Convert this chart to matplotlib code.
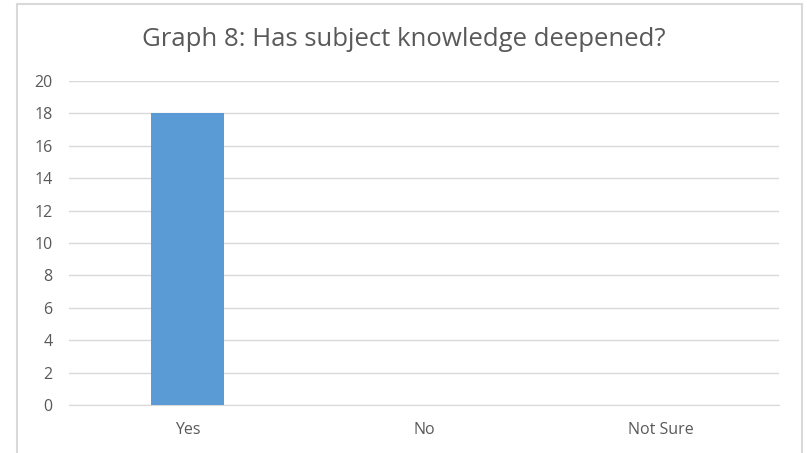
import matplotlib.pyplot as plt
from matplotlib.patches import Rectangle

categories = ["Yes", "No", "Not Sure"]
counts = [18, 0, 0]
y_ticks = list(range(0, 21, 2))

TEXT = "#595959"
GRID = "#d9d9d9"
BAR = "#5b9bd5"

plt.rcParams["font.family"] = ["Open Sans", "DejaVu Sans"]

fig = plt.figure(figsize=(8.07, 4.53), dpi=100)
W, H = 807, 453

# chart frame, bottom edge runs past the figure
fig.patches.append(
    Rectangle((16.5 / W, -0.05), (801.5 - 16.5) / W, 1.05 - 4.5 / H,
              transform=fig.transFigure, fill=False, edgecolor=GRID,
              linewidth=1.5, clip_on=False)
)

ax = fig.add_axes([69 / W, 1 - 405 / H, (779 - 69) / W, (405 - 81) / H])
ax.bar(range(len(categories)), counts, width=0.31, color=BAR, zorder=3)

ax.set_xlim(-0.5, len(categories) - 0.5)
ax.set_ylim(0, 20)
ax.set_yticks(y_ticks)
ax.set_xticks(range(len(categories)))
ax.set_xticklabels(categories)
ax.yaxis.grid(True, color=GRID, linewidth=1)
ax.set_axisbelow(True)
for s in ["top", "right", "left"]:
    ax.spines[s].set_visible(False)
ax.spines["bottom"].set_color(GRID)
ax.tick_params(axis="both", length=0, colors=TEXT, labelsize=11.5)
ax.tick_params(axis="y", pad=12)
ax.tick_params(axis="x", pad=12)

fig.text(404 / W, 1 - 40 / H, "Graph 8: Has subject knowledge deepened?",
         ha="center", va="center", fontsize=18.5, color=TEXT)

fig.savefig("out.png", dpi=100, facecolor="white")
